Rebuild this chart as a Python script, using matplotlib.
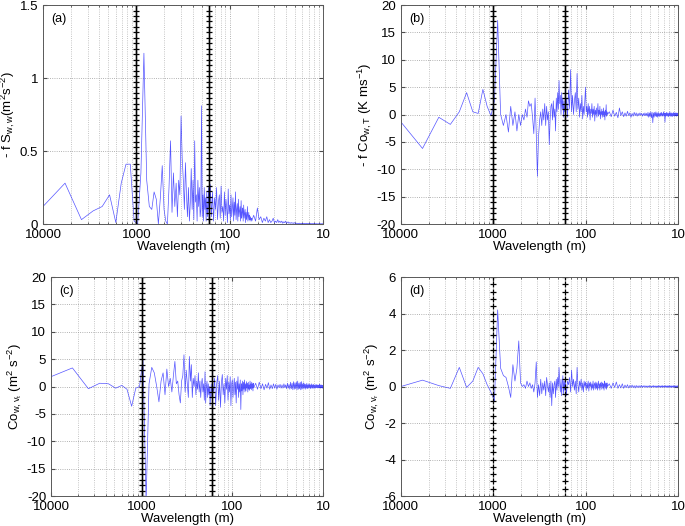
import numpy as np
import matplotlib
matplotlib.use("Agg")
import matplotlib.pyplot as plt
from matplotlib.ticker import LogLocator, NullFormatter

plt.rcParams['font.family'] = ['Liberation Sans', 'DejaVu Sans']
plt.rcParams['mathtext.default'] = 'regular'
plt.rcParams['font.size'] = 9

# spectral estimates at wavenumber k / record_length
record_length = 11620.0  # m
k_head = list(range(1, 71))
k_mid = list(range(72, 202, 2))
k_tail = list(range(210, 1170, 10))

# (a) - f S_w,w
a_head = [0.076, 0.28, 0.03, 0.09, 0.12, 0.20, 0.01, 0.28, 0.41, 0.41,
          0.02, 0.00, 0.35, 1.17, 0.30, 0.12, 0.10, 0.22, 0.17, 0.00,
          0.18, 0.40, 0.10, 0.02, 0.00, 0.25, 0.57, 0.08, 0.35, 0.12,
          0.28, 0.05, 0.30, 0.20, 0.74, 0.45, 0.30, 0.10, 0.42, 0.20,
          0.05, 0.25, 0.02, 0.15, 0.38, 0.10, 0.30, 0.03, 0.57, 0.15,
          0.20, 0.02, 0.30, 0.12, 0.25, 0.05, 0.10, 0.81, 0.05, 0.20,
          0.02, 0.25, 0.10, 0.18, 0.02, 0.22, 0.05, 0.12, 0.25, 0.02]
a_mid = [0.27, 0.05, 0.22, 0.02, 0.18, 0.10, 0.25, 0.03, 0.15, 0.20,
         0.04, 0.26, 0.08, 0.12, 0.02, 0.22, 0.06, 0.17, 0.10, 0.01,
         0.24, 0.07, 0.13, 0.03, 0.20, 0.05, 0.11, 0.18, 0.02, 0.15,
         0.06, 0.22, 0.03, 0.10, 0.14, 0.02, 0.17, 0.05, 0.09, 0.12,
         0.02, 0.16, 0.04, 0.08, 0.11, 0.02, 0.13, 0.04, 0.07, 0.10,
         0.01, 0.08, 0.03, 0.06, 0.12, 0.02, 0.05, 0.08, 0.03, 0.06,
         0.02, 0.05, 0.03, 0.04, 0.02]
a_tail = [0.06, 0.02, 0.11, 0.03, 0.05, 0.01, 0.04, 0.02, 0.05, 0.01,
          0.03, 0.01, 0.02, 0.04, 0.01, 0.02, 0.01, 0.03, 0.01, 0.02,
          0.01, 0.02, 0.005, 0.015, 0.01, 0.02, 0.005, 0.01, 0.015, 0.005,
          0.01, 0.005, 0.01, 0.005, 0.008, 0.004, 0.01, 0.005, 0.008, 0.003,
          0.006, 0.003, 0.005, 0.002, 0.006, 0.003, 0.004, 0.002, 0.005, 0.003,
          0.004, 0.002, 0.005, 0.002, 0.004, 0.003, 0.005, 0.002, 0.004, 0.002,
          0.004, 0.002, 0.003, 0.002, 0.004, 0.002, 0.003, 0.001, 0.003, 0.002,
          0.003, 0.001, 0.003, 0.002, 0.003, 0.001, 0.002, 0.001, 0.003, 0.001,
          0.002, 0.001, 0.002, 0.001, 0.002, 0.001, 0.002, 0.001, 0.002, 0.001,
          0.002, 0.001, 0.002, 0.001, 0.002, 0.001]

# (b) - f Co_w,T
b_head = [0.03, -6.2, -0.5, -1.8, 0.5, 4.0, 0.5, 0.2, 4.6, 1.5,
          -0.2, 2.5, 17.2, 0.0, -2.0, 0.0, -3.2, 1.5, -2.0, 0.5,
          -3.0, 0.0, -2.0, 0.0, -1.0, 1.0, -0.5, 2.5, 1.5, 2.0,
          -0.5, -3.5, 3.0, -3.5, -11.3, -4.0, -1.0, 0.5, -2.0, 1.0,
          -1.0, 2.0, -2.0, 1.5, -1.0, 0.5, -5.5, -1.0, 1.5, 2.0,
          -1.0, 2.5, -0.5, 1.0, -3.0, 3.0, 0.5, 4.0, 1.0, 6.2,
          2.0, 3.5, 0.0, 4.0, 1.0, 3.0, -0.5, 2.5, 0.5, 1.0]
b_mid = [3.0, -0.5, 4.5, 1.0, 8.2, 0.5, 3.5, 0.0, 2.5, 4.0,
         0.5, 7.5, 1.0, 3.0, -0.5, 2.0, 0.5, 3.5, -0.8, 1.5,
         0.0, 2.5, 5.0, 0.5, 1.5, -0.5, 2.0, 0.0, 1.5, -1.0,
         1.0, 0.2, 2.0, -0.5, 1.0, 0.0, 1.5, -1.2, 0.8, 0.0,
         1.2, -0.5, 0.5, 2.0, -0.3, 0.8, 0.0, 1.5, -0.8, 0.5,
         0.0, 1.0, -0.5, 0.6, 0.0, 1.2, -0.4, 0.5, -1.0, 0.8,
         0.0, 1.8, -0.3, 0.5, 0.0]
b_tail = [0.5, -0.4, 0.8, -0.3, 0.4, -0.6, 1.2, -0.2, 0.5, -0.4,
          0.3, -0.3, 0.6, -0.2, 0.3, -0.5, 0.2, -0.3, 0.4, -0.2,
          0.3, -0.3, 0.2, -0.2, 0.3, -0.1, 0.2, -0.3, 0.2, -0.2,
          0.3, -0.2, 0.2, -0.3, 0.4, -0.5, 0.3, -0.4, 0.5, -0.6,
          0.4, -1.5, 0.3, -0.5, 0.4, -0.3, 0.5, -0.4, 0.3, -0.5,
          0.4, -0.3, 0.2, -0.4, 0.3, -0.2, 0.4, -0.3, 0.2, -0.3,
          0.5, -0.2, 0.3, -1.4, 0.2, -0.3, 0.4, -0.2, 0.3, -0.3,
          0.2, -0.4, 0.3, -0.2, 0.5, -0.3, 0.2, -0.2, 0.3, -0.4,
          0.2, -0.3, 0.3, -0.2, 0.4, -0.3, 0.2, -0.2, 0.3, -0.1,
          0.2, -0.3, 0.3, -0.2, 0.2, -0.1]

# (c) Co_w,vt
c_head = [1.36, 3.4, -0.4, 0.6, 0.5, -0.3, 0.2, -0.5, -3.6, -0.3,
          0.0, 5.0, -21.0, 0.5, 3.5, 2.5, 0.0, -2.8, 1.0, 2.5,
          -1.5, 3.2, 0.0, 1.5, -1.0, 2.0, 4.6, 0.5, 1.0, -1.5,
          -3.0, 1.0, 2.0, 5.8, -1.0, 3.0, 0.5, -2.0, 5.5, 1.0,
          4.0, -2.0, 1.5, 0.0, 2.0, -1.5, 1.0, -0.5, 2.5, -1.0,
          1.0, -2.0, 0.5, 1.5, -1.0, 0.5, -2.5, 2.7, -3.0, 0.0,
          1.0, -2.0, 0.5, -1.5, 0.0, -3.5, -1.0, 0.5, -2.0, 0.5]
c_mid = [-1.0, 1.5, -3.5, 0.5, 2.0, -2.5, 1.0, -3.8, 0.8, 2.2,
         -1.5, 0.5, -3.0, 1.5, -0.5, 2.0, -2.5, 0.8, -1.0, 1.8,
         -3.5, 0.5, 1.2, -2.0, 0.0, 1.5, -1.5, 0.8, -3.0, 1.0,
         -0.5, 1.8, -2.0, 0.5, -1.0, 1.2, -4.2, 0.5, -0.8, 1.0,
         -1.5, 0.8, -0.5, 1.2, -1.0, 0.5, -0.8, 0.9, -0.3, 0.6,
         -1.0, 0.8, -0.5, 0.3, -0.7, 1.0, -0.4, 0.5, -0.6, 0.8,
         -0.3, 0.5, -0.8, 0.6, -0.2]
c_tail = [0.6, -0.5, 0.8, -0.4, 0.5, -0.6, 0.4, -0.3, 0.7, -0.5,
          0.3, -0.4, 0.5, -0.3, 0.4, -0.5, 0.3, -0.2, 0.4, -0.3,
          0.3, -0.3, 0.5, -0.2, 0.3, -0.4, 0.6, -0.3, 0.4, -0.5,
          0.8, -0.4, 0.6, -0.6, 0.9, -0.5, 0.7, -0.4, 0.8, -0.6,
          1.0, -0.5, 0.6, -0.4, 0.8, -0.6, 0.9, -0.5, 0.5, -0.4,
          0.7, -0.3, 0.5, -0.5, 0.4, -0.3, 0.6, -0.4, 0.3, -0.3,
          0.5, -0.2, 0.4, -0.4, 0.3, -0.3, 0.5, -0.2, 0.3, -0.4,
          0.4, -0.2, 0.3, -0.3, 0.2, -0.3, 0.4, -0.2, 0.3, -0.2,
          0.3, -0.3, 0.2, -0.2, 0.3, -0.2, 0.4, -0.3, 0.2, -0.2,
          0.3, -0.2, 0.2, -0.3, 0.2, -0.1]

# (d) Co_w,vr
d_head = [-0.1, 0.35, 0.05, -0.1, 1.05, -0.05, 0.3, 1.05, 0.7, 0.1,
          -0.3, -0.8, 4.2, 1.0, 0.6, 0.5, 0.0, -0.6, 1.2, 0.3,
          1.0, 2.5, 0.2, 0.0, 0.1, -0.1, 0.3, 0.0, 0.2, -0.1,
          0.1, -0.3, 0.2, 1.35, -0.6, 0.1, -0.5, 0.4, -0.4, 0.2,
          -0.2, 0.3, -0.5, 0.5, 0.1, -0.3, 0.2, -0.6, 0.3, -1.05,
          0.2, -0.4, 0.1, 0.3, -0.6, 0.4, -0.2, 0.5, 0.0, 1.05,
          0.2, -0.3, 0.4, -0.5, 0.2, 0.6, -0.4, 0.3, -0.2, 0.4]
d_mid = [-0.5, 0.3, 0.1, 0.5, -0.3, 0.9, 0.0, 0.4, -0.2, 0.3,
         -0.4, 1.05, 0.1, -0.3, 0.3, 0.0, 0.4, -0.2, 0.2, -0.3,
         0.3, 0.0, 0.25, -0.2, 0.2, -0.1, 0.3, -0.25, 0.2, 0.0,
         0.25, -0.2, 0.15, -0.1, 0.3, -0.2, 0.1, 0.2, -0.15, 0.25,
         -0.1, 0.2, -0.2, 0.1, 0.3, -0.1, 0.15, -0.2, 0.2, 0.0,
         0.25, -0.15, 0.1, 0.2, -0.1, 0.15, -0.2, 0.3, 0.0, 0.2,
         -0.1, 0.15, -0.15, 0.2, 0.0]
d_tail = [0.15, -0.1, 0.2, -0.05, 0.25, -0.1, 0.1, -0.08, 0.15, -0.1,
          0.08, -0.06, 0.1, -0.08, 0.06, -0.05, 0.08, -0.06, 0.05, -0.08,
          0.06, -0.05, 0.04, -0.06, 0.05, -0.04, 0.06, -0.05, 0.04, -0.03,
          0.05, -0.04, 0.03, -0.05, 0.04, -0.03, 0.05, -0.04, 0.03, -0.05,
          0.04, -0.03, 0.05, -0.04, 0.03, -0.03, 0.04, -0.05, 0.03, -0.04,
          0.05, -0.03, 0.04, -0.04, 0.03, -0.05, 0.04, -0.03, 0.05, -0.04,
          0.03, -0.04, 0.04, -0.03, 0.05, -0.04, 0.03, -0.03, 0.04, -0.05,
          0.03, -0.04, 0.05, -0.03, 0.04, -0.04, 0.03, -0.05, 0.04, -0.03,
          0.03, -0.04, 0.04, -0.03, 0.05, -0.04, 0.03, -0.03, 0.04, -0.03,
          0.03, -0.04, 0.03, -0.03, 0.04, -0.02]

cutoff_wavelengths = [1000, 168]  # m
xtick_wavelengths = [10000, 1000, 100, 10]

k_all = np.array(k_head + k_mid + k_tail)
wavenumber = k_all / record_length

panels = [
    ([0.0628, 0.5741, 0.4088, 0.4163], a_head + a_mid + a_tail, (0, 1.5),
     [0, 0.5, 1, 1.5], '- f S$_{w, w}$(m$^2$s$^{-2}$)', '(a)', '-', 41),
    ([0.5850, 0.5741, 0.4048, 0.4163], b_head + b_mid + b_tail, (-20, 20),
     list(range(-20, 21, 5)), '- f Co$_{w, T}$ (K ms$^{-1}$)', '(b)', '-', 41),
    ([0.0745, 0.0570, 0.3971, 0.4163], c_head + c_mid + c_tail, (-20, 20),
     list(range(-20, 21, 5)), 'Co$_{w, v_t}$ (m$^2$ s$^{-2}$)', '(c)', '-', 41),
    ([0.5850, 0.0570, 0.4048, 0.4163], d_head + d_mid + d_tail, (-6, 6),
     list(range(-6, 7, 2)), 'Co$_{w, v_r}$ (m$^2$ s$^{-2}$)', '(d)', 'none', 31),
]

fig = plt.figure(figsize=(6.85, 5.26), dpi=100)

for pos, vals, ylim, yticks, ylabel, tag, vls, nmark in panels:
    ax = fig.add_axes(pos)
    ax.plot(wavenumber, vals, color='#2b2bff', lw=0.5, alpha=0.8)
    for wl in cutoff_wavelengths:
        yy = np.linspace(ylim[0], ylim[1], nmark)
        ax.plot(np.full(nmark, 1.0 / wl), yy, color='k', ls=vls, lw=1.0,
                marker='+', ms=5, mew=0.9)
    ax.set_xscale('log')
    ax.set_xlim(1e-4, 1e-1)
    ax.set_ylim(*ylim)
    ax.set_xticks([1.0 / w for w in xtick_wavelengths])
    ax.set_xticklabels([str(w) for w in xtick_wavelengths])
    ax.xaxis.set_minor_locator(LogLocator(base=10, subs=np.arange(2, 10)))
    ax.xaxis.set_minor_formatter(NullFormatter())
    ax.set_yticks(yticks)
    ax.set_yticklabels([f'{t:g}' for t in yticks])
    ax.grid(True, which='major', ls=':', color='0.6', lw=0.6)
    ax.grid(True, which='minor', axis='x', ls=':', color='0.7', lw=0.6)
    ax.tick_params(which='both', direction='in', top=True, right=True,
                   labelsize=9.5, color='0.3')
    ax.tick_params(which='major', length=3)
    ax.tick_params(which='minor', length=1.5)
    for s in ax.spines.values():
        s.set_color('0.35')
        s.set_linewidth(0.7)
    ax.set_xlabel('Wavelength (m)', fontsize=9.5, labelpad=0)
    ax.set_ylabel(ylabel, fontsize=9.5, labelpad=2)
    ax.text(0.03, 0.965, tag, transform=ax.transAxes, va='top', ha='left',
            fontsize=9)

plt.savefig("out.png", dpi=100)
